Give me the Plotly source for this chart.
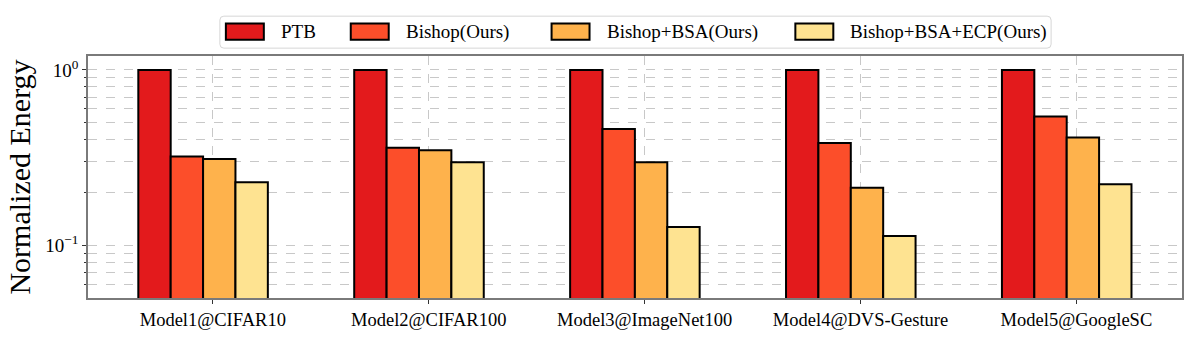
import plotly.graph_objects as go

models = ["Model1@CIFAR10", "Model2@CIFAR100", "Model3@ImageNet100",
          "Model4@DVS-Gesture", "Model5@GoogleSC"]
series_names = ["PTB", "Bishop(Ours)", "Bishop+BSA(Ours)", "Bishop+BSA+ECP(Ours)"]
ptb = [1.0, 1.0, 1.0, 1.0, 1.0]
bishop = [0.321, 0.360, 0.460, 0.383, 0.542]
bishop_bsa = [0.310, 0.348, 0.297, 0.213, 0.412]
bishop_bsa_ecp = [0.229, 0.297, 0.127, 0.113, 0.223]
colors = ["#e31a1c", "#fc4e2a", "#feb24c", "#fee391"]

all_series = [ptb, bishop, bishop_bsa, bishop_bsa_ecp]
width = 0.15
FONT = "Liberation Serif"

# figure / plot area in pixels
W, H = 1196, 342
L, R, T, B = 88, 1183, 56, 302


def px(x):
    return (x - L) / (R - L)


def py(y):
    return (B - y) / (B - T)


fig = go.Figure()
for k, (name, vals) in enumerate(zip(series_names, all_series)):
    fig.add_trace(go.Bar(
        x=[i - 0.27 + width * k for i in range(len(models))],
        y=vals, width=width, name=name,
        marker=dict(color=colors[k], line=dict(color="black", width=2)),
        showlegend=False,
    ))

# hand-made legend, matplotlib style
shapes = []
annotations = []
x0, x1, y0, y1, r = 220, 1052, 15.5, 48, 4
shapes.append(dict(
    type="path", xref="paper", yref="paper",
    path=(f"M {px(x0 + r)},{py(y0)} L {px(x1 - r)},{py(y0)} "
          f"Q {px(x1)},{py(y0)} {px(x1)},{py(y0 + r)} L {px(x1)},{py(y1 - r)} "
          f"Q {px(x1)},{py(y1)} {px(x1 - r)},{py(y1)} L {px(x0 + r)},{py(y1)} "
          f"Q {px(x0)},{py(y1)} {px(x0)},{py(y1 - r)} L {px(x0)},{py(y0 + r)} "
          f"Q {px(x0)},{py(y0)} {px(x0 + r)},{py(y0)} Z"),
    line=dict(color="#d6d6d6", width=1), fillcolor="white", layer="above",
))
patch_x = [226, 351, 552, 796]
for k, name in enumerate(series_names):
    shapes.append(dict(
        type="rect", xref="paper", yref="paper",
        x0=px(patch_x[k]), x1=px(patch_x[k] + 38), y0=py(23), y1=py(39.5),
        fillcolor=colors[k], line=dict(color="black", width=2), layer="above",
    ))
    annotations.append(dict(
        x=px(patch_x[k] + 53), y=py(31.5), xref="paper", yref="paper",
        text=name, showarrow=False, xanchor="left", yanchor="middle",
        font=dict(family=FONT, size=19, color="black"),
    ))

minor_vals = [0.06, 0.07, 0.08, 0.09, 0.2, 0.3, 0.4, 0.5, 0.6, 0.7, 0.8, 0.9]

fig.update_layout(
    width=W, height=H,
    margin=dict(l=L, r=W - R, t=T, b=H - B),
    plot_bgcolor="white", paper_bgcolor="white",
    barmode="overlay",
    font=dict(family=FONT, size=18, color="black"),
    shapes=shapes, annotations=annotations,
    xaxis=dict(
        range=[-0.578, 4.489],
        tickmode="array", tickvals=list(range(len(models))), ticktext=models,
        ticks="outside", ticklen=4, tickcolor="#333",
        showgrid=True, gridcolor="#c8c8c8", griddash="dash", gridwidth=1,
        showline=True, linecolor="#7a7a7a", linewidth=1.5, mirror=True,
        tickfont=dict(family=FONT, size=18.5),
        zeroline=False,
    ),
    yaxis=dict(
        type="log", range=[-1.301, 0.0792],
        tickmode="array", tickvals=[0.1, 1],
        ticktext=["10<sup>\u22121</sup>", "10<sup>0</sup>"],
        ticks="outside", ticklen=4, tickcolor="#333",
        showgrid=True, gridcolor="#c8c8c8", griddash="dash", gridwidth=1,
        minor=dict(tickmode="array", tickvals=minor_vals, ticks="outside",
                   ticklen=2, tickcolor="#333", showgrid=True,
                   gridcolor="#c8c8c8", griddash="dash", gridwidth=1),
        showline=True, linecolor="#7a7a7a", linewidth=1.5, mirror=True,
        tickfont=dict(family=FONT, size=19),
        title=dict(text="Normalized Energy", font=dict(family=FONT, size=30),
                   standoff=6),
        zeroline=False,
    ),
)

fig.write_html("out.html", config={"displayModeBar": False},
               post_script="document.body.style.margin = '0';")
